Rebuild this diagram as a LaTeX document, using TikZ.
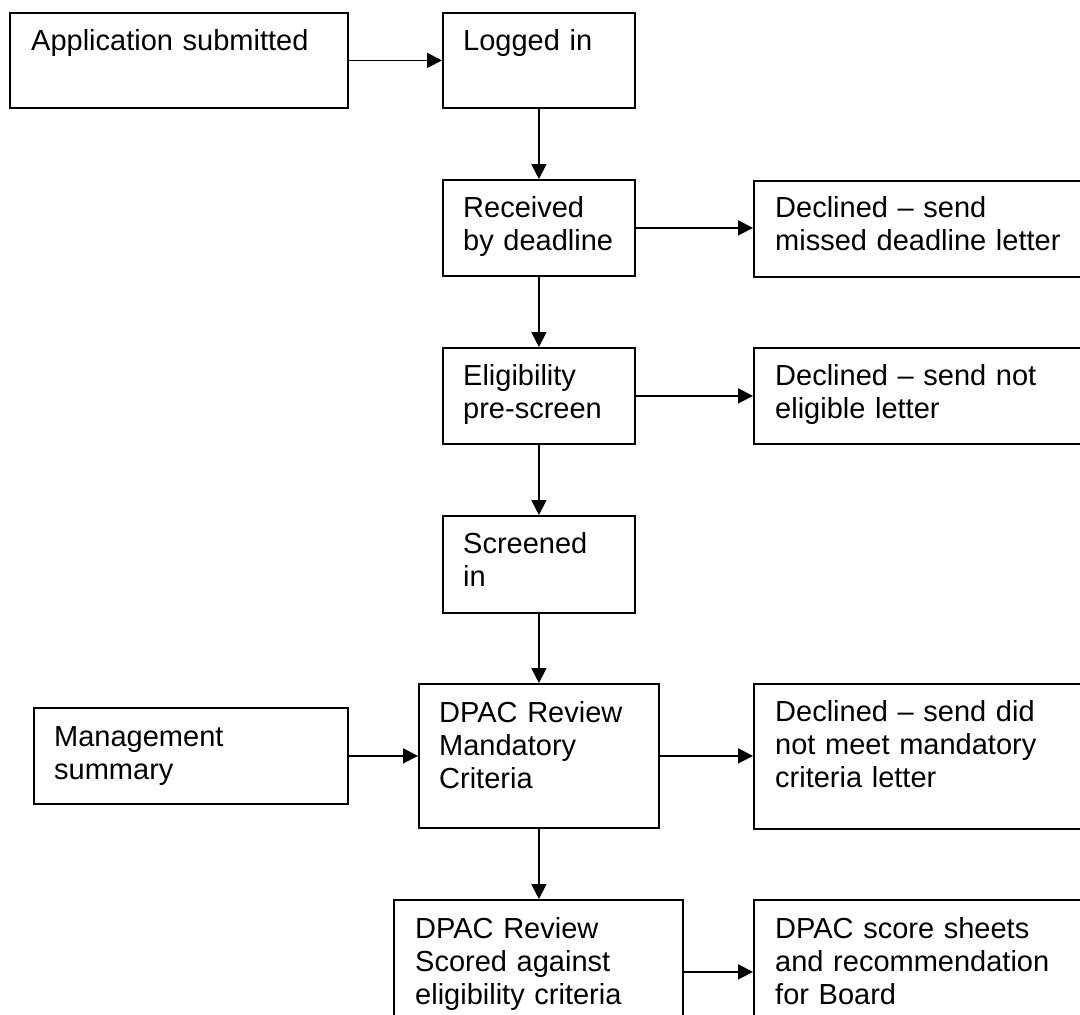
\documentclass[tikz,border=0pt]{standalone}
\usepackage{fontspec}
\setmainfont{Liberation Sans}
\usetikzlibrary{arrows.meta}
\begin{document}
\begin{tikzpicture}[x=1pt,y=-1pt,
  box/.style={draw=black, line width=1.8pt, fill=white, anchor=north west, inner sep=0pt},
  txt/.style={anchor=base west, inner sep=0pt, text width=300pt, align=left,
              font=\fontsize{29}{33}\selectfont},
  arr/.style={draw=black, line width=1.8pt, -{Triangle[length=15pt,width=15pt]}}]
\useasboundingbox (0,0) rectangle (1080,1015);
\fill[white] (0,0) rectangle (1080,1015);
\clip (0,0) rectangle (1080,1015);
% boxes
\node[box, minimum width=338pt, minimum height=95pt] (app) at (9,12) {};
\node[box, minimum width=192pt, minimum height=95pt] (log) at (442,12) {};
\node[box, minimum width=192pt, minimum height=96pt] (rec) at (442,179) {};
\node[box, minimum width=329pt, minimum height=96pt] (dec1) at (753,180) {};
\node[box, minimum width=192pt, minimum height=96pt] (elig) at (442,347) {};
\node[box, minimum width=329pt, minimum height=96pt] (dec2) at (753,347) {};
\node[box, minimum width=192pt, minimum height=97pt] (scr) at (442,515) {};
\node[box, minimum width=314pt, minimum height=96pt] (mgmt) at (33,707) {};
\node[box, minimum width=240pt, minimum height=144pt] (mand) at (418,683) {};
\node[box, minimum width=329pt, minimum height=145pt] (dec3) at (753,683) {};
\node[box, minimum width=289pt, minimum height=144pt] (scored) at (393,899) {};
\node[box, minimum width=329pt, minimum height=144pt] (sheets) at (753,899) {};
% texts
\node[txt] (tapp) at ([shift={(22,38)}]app.north west) {Application submitted};
\node[txt] (tlog) at ([shift={(21,38)}]log.north west) {Logged in};
\node[txt] (trec) at ([shift={(21,38)}]rec.north west) {Received\\by deadline};
\node[txt] (tdec1) at ([shift={(22,37)}]dec1.north west) {Declined – send\\missed deadline letter};
\node[txt] (telig) at ([shift={(21,38)}]elig.north west) {Eligibility\\pre-screen};
\node[txt] (tdec2) at ([shift={(22,38)}]dec2.north west) {Declined – send not\\eligible letter};
\node[txt] (tscr) at ([shift={(21,38)}]scr.north west) {Screened\\in};
\node[txt] (tmgmt) at ([shift={(21,39)}]mgmt.north west) {Management\\summary};
\node[txt] (tmand) at ([shift={(21,39)}]mand.north west) {DPAC Review\\Mandatory\\Criteria};
\node[txt] (tdec3) at ([shift={(22,38)}]dec3.north west) {Declined – send did\\not meet mandatory\\criteria letter};
\node[txt] (tscored) at ([shift={(22,39)}]scored.north west) {DPAC Review\\Scored against\\eligibility criteria};
\node[txt] (tsheets) at ([shift={(22,39)}]sheets.north west) {DPAC score sheets\\and recommendation\\for Board};
% connectors
\draw[arr] (app.east) -- (app.east -| log.west);
\draw[arr] (log.south) -- (log.south |- rec.north);
\draw[arr] (rec.east) -- (rec.east -| dec1.west);
\draw[arr] (rec.south) -- (rec.south |- elig.north);
\draw[arr] (elig.east) -- (elig.east -| dec2.west);
\draw[arr] (elig.south) -- (elig.south |- scr.north);
\draw[arr] (scr.south) -- (scr.south |- mand.north);
\draw[arr] (mgmt.east) -- (mgmt.east -| mand.west);
\draw[arr] (mand.east) -- (mand.east -| dec3.west);
\draw[arr] (mand.south) -- (mand.south |- scored.north);
\draw[arr] (scored.east) -- (scored.east -| sheets.west);
\end{tikzpicture}
\end{document}
